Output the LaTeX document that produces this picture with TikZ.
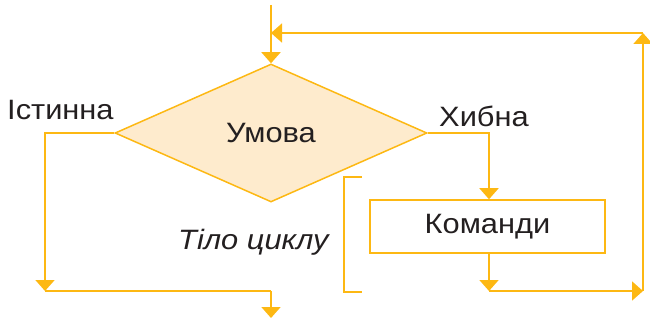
\documentclass[tikz,border=0pt]{standalone}
\usepackage{fontspec}
\setmainfont{Liberation Sans}[FakeStretch=1.1]
\usepackage{tikz}
\usepackage{xcolor}
\usetikzlibrary{arrows.meta, shapes.geometric, positioning}

\definecolor{flowline}{HTML}{FDB813}
\definecolor{condfill}{HTML}{FEEBCD}
\definecolor{labeltext}{HTML}{231F20}

\begin{document}
\begin{tikzpicture} [
                x=1pt, y=-1pt,
                cond/.style={draw=flowline, fill=condfill, diamond, aspect=2.26, minimum width=312pt, minimum height=138pt, inner sep=0pt, line width=1.5pt, font=\fontsize{28}{31}\selectfont, text=labeltext},
                box/.style={draw=flowline, rectangle, minimum width=235pt, minimum height=53pt, line width=1.5pt, font=\fontsize{28}{31}\selectfont, text=labeltext},
                lbl/.style={font=\fontsize{28}{31}\selectfont, text=labeltext, inner sep=0pt},
                line/.style={draw=flowline, line width=1.8pt},
                arrow/.style={line, -{Triangle[width=19pt, length=11pt]}}
            ]
            \useasboundingbox (0,0) rectangle (650,323);

            % Condition
            \node[cond] (cond) at (271,133) {Умова};
            \node[lbl, anchor=base west] (trueLbl) at (7,120) {Істинна};
            \node[lbl, anchor=base west] (falseLbl) at (439,127) {Хибна};

            % Loop body
            \node[box] (cmds) at (487.5,226.5) {Команди};
            \node[lbl, anchor=base west, font=\fontsize{28}{31}\selectfont\itshape] (bodyLbl) at (178,249) {Тіло циклу};
            \draw[draw=flowline, line width=1.4pt] (362,177) -- (344,177) -- (344,292) -- (362,292);

            % Turning points
            \coordinate (entry) at (271,5);
            \coordinate (loopJoin) at (271,33);
            \coordinate (loopTop) at (643,33);
            \coordinate (loopBottom) at (643,291);
            \coordinate (falseTurn) at (489,133);
            \coordinate (cmdsTurn) at (489,291);
            \coordinate (trueTurn) at (45,133);
            \coordinate (trueBottom) at (45,291);
            \coordinate (exitTurn) at (271,291);
            \coordinate (exit) at (271,318);

            % Connections
            \draw[arrow] (entry) -- (cond.north);
            \draw[arrow] (cond.east) -- (falseTurn) -- (cmds.north -| falseTurn);
            \draw[arrow] (cmds.south -| cmdsTurn) -- (cmdsTurn);
            \draw[arrow] (cmdsTurn) -- (loopBottom);
            \draw[arrow] (loopBottom) -- (loopTop);
            \draw[arrow] (loopTop) -- (loopJoin);
            \draw[arrow] (cond.west) -- (trueTurn) -- (trueBottom);
            \draw[line] (trueBottom) -- (exitTurn);
            \draw[arrow] (exitTurn) -- (exit);
        \end{tikzpicture}
\end{document}
